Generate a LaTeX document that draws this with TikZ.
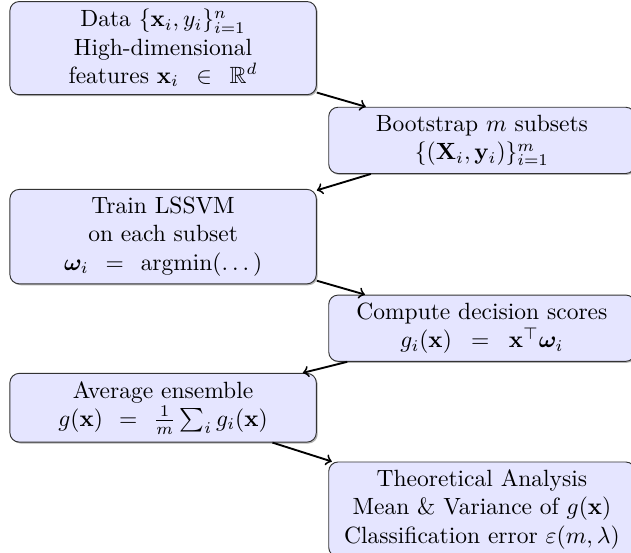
\documentclass[tikz,border=0pt]{standalone}
\usepackage{amsmath,amssymb,bm}
\usetikzlibrary{shadows}
\begin{document}
\begin{tikzpicture}[box/.style={draw=black!80, fill=blue!10, rounded corners=4pt, align=center, text width=4.35cm, drop shadow={shadow xshift=0.6pt, shadow yshift=-0.6pt, opacity=0.6}}]
            \useasboundingbox (0,0) rectangle (9.44,-8.26);
            \node[box] (A) at (2.44,-0.72) {Data $\{\mathbf{x}_i, y_i\}_{i=1}^{n}$\\ High-dimensional\\ features $\mathbf{x}_i\,\in\,\mathbb{R}^d$};
            \node[box] (B) at (7.21,-2.10) {Bootstrap $m$ subsets\\ $\{(\mathbf{X}_i, \mathbf{y}_i)\}_{i=1}^{m}$};
            \node[box] (C) at (2.44,-3.54) {Train LSSVM\\ on each subset\\ $\bm{\omega}_i\,=\,\operatorname{argmin}(\dots)$};
            \node[box] (D) at (7.21,-4.91) {Compute decision scores\\ $g_i(\mathbf{x})\,=\,\mathbf{x}^\top \bm{\omega}_i$};
            \node[box] (E) at (2.44,-6.10) {Average ensemble\\ $g(\mathbf{x})\,=\,\frac{1}{m}\sum_i g_i(\mathbf{x})$};
            \node[box] (F) at (7.21,-7.62) {Theoretical Analysis\\ Mean \& Variance of $g(\mathbf{x})$\\ Classification error $\varepsilon(m,\lambda)$};

            \draw[->, thick] (A) -- (B);
            \draw[->, thick] (B) -- (C);
            \draw[->, thick] (C) -- (D);
            \draw[->, thick] (D) -- (E);
            \draw[->, thick] (E) -- (F);
          \end{tikzpicture}
\end{document}
